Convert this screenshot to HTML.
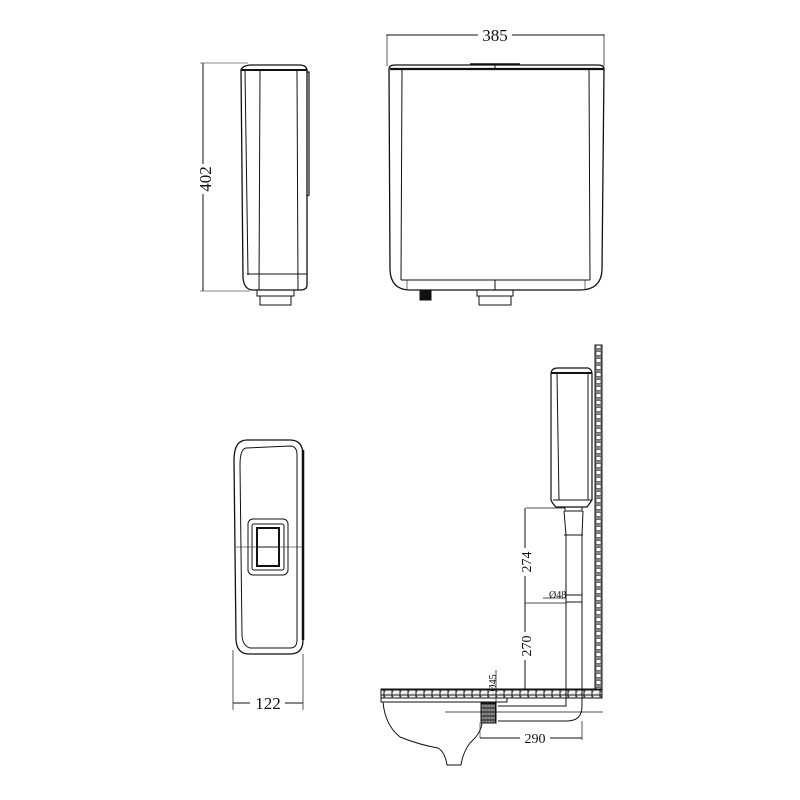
<!DOCTYPE html>
<html><head><meta charset="utf-8"><style>body{margin:0;background:#fff}svg{display:block}</style></head>
<body>
<svg width="800" height="800" viewBox="0 0 800 800" xmlns="http://www.w3.org/2000/svg" font-family="Liberation Serif, serif" fill="none" stroke="#111" stroke-width="1">
<defs>
<pattern id="hb" width="7" height="7" patternUnits="userSpaceOnUse"><rect width="7" height="7" fill="#fff"/><rect x="1" y="1.5" width="5" height="4" fill="none" stroke="#333" stroke-width="0.7"/></pattern>
<pattern id="cc" width="8" height="5" patternUnits="userSpaceOnUse"><rect width="8" height="5" fill="#f6f6f6"/><circle cx="1" cy="1.5" r="0.6" fill="#666" stroke="none"/><circle cx="5" cy="3.5" r="0.5" fill="#888" stroke="none"/></pattern>
<pattern id="vl" width="3" height="4" patternUnits="userSpaceOnUse"><rect width="3" height="4" fill="#fff"/><line x1="1.5" y1="0" x2="1.5" y2="4" stroke="#333" stroke-width="0.7"/></pattern>
</defs>

<!-- Side view top-left -->
<line x1="203" y1="63" x2="203" y2="291"/>
<line x1="200" y1="63" x2="248" y2="63" stroke-width="0.6"/>
<line x1="200" y1="291" x2="250" y2="291" stroke-width="0.6"/>
<rect x="196" y="164" width="14" height="30" fill="#fff" stroke="none"/>
<text x="0" y="0" transform="translate(211,179) rotate(-90)" font-size="17" fill="#111" stroke="none" text-anchor="middle">402</text>
<path d="M241 70 Q242 66 250 65 L300 65 Q306 65 307 70 L307 285 Q307 290 300 290 L252 290 Q244 289 243 278 Z" stroke-width="1.3"/>
<path d="M241 70 L307 70" stroke-width="2"/>
<line x1="245" y1="71" x2="248" y2="275"/>
<line x1="260" y1="71" x2="259" y2="290"/>
<line x1="297" y1="71" x2="298" y2="290"/>
<line x1="247" y1="274" x2="307" y2="274"/>
<path d="M307 72 L309 72 L309 195 L307 196" stroke-width="1.2"/>
<rect x="257" y="290" width="37" height="6"/>
<rect x="260" y="296" width="31" height="9"/>

<!-- Front view top-right -->
<line x1="387" y1="34" x2="387" y2="66" stroke-width="0.7"/>
<line x1="604" y1="34" x2="604" y2="66" stroke-width="0.7"/>
<line x1="387" y1="35" x2="478" y2="35"/>
<line x1="512" y1="35" x2="604" y2="35"/>
<text x="495" y="41" font-size="17" fill="#111" stroke="none" text-anchor="middle">385</text>
<path d="M389 69 Q389 65 395 65 L598 65 Q604 65 604 69 L602 270 Q601 290 580 290 L410 290 Q391 290 390 270 Z" stroke-width="1.3"/>
<path d="M390 69 L604 69" stroke-width="2.2"/>
<path d="M470 64 L520 64" stroke-width="1.5"/>
<line x1="402" y1="69" x2="401" y2="280"/>
<line x1="589" y1="69" x2="590" y2="280"/>
<line x1="401" y1="280" x2="590" y2="280"/>
<line x1="495" y1="65" x2="495" y2="69"/>
<line x1="495" y1="280" x2="495" y2="290"/>
<line x1="407" y1="280" x2="407" y2="290" stroke-width="0.6"/>
<line x1="585" y1="280" x2="585" y2="290" stroke-width="0.6"/>
<rect x="420" y="290" width="11" height="10" fill="#111"/>
<rect x="477" y="290" width="36" height="6"/>
<rect x="479" y="296" width="32" height="9"/>

<!-- Bottom view -->
<path d="M247 440 L290 440 Q303 440 303 455 L303 640 Q303 654 290 654 L249 654 Q237 654 236 640 L234 460 Q234 440 247 440 Z" stroke-width="1.3"/>
<path d="M246 448 L290 446 Q297 446 297 455 L297 640 Q297 648 290 648 L250 648 Q243 646 242 636 L240 465 Q240 449 246 448 Z"/>
<line x1="303" y1="450" x2="303" y2="640" stroke-width="2.5"/>
<line x1="236" y1="547" x2="303" y2="547" stroke-width="0.6"/>
<rect x="248" y="519" width="40" height="56" rx="5"/>
<rect x="252" y="524" width="32" height="46" rx="2"/>
<rect x="257" y="528" width="22" height="38" stroke-width="2"/>
<line x1="257" y1="547" x2="279" y2="547"/>
<line x1="233" y1="650" x2="233" y2="710" stroke-width="0.7"/>
<line x1="303" y1="654" x2="303" y2="710" stroke-width="0.7"/>
<line x1="233" y1="703" x2="250" y2="703"/>
<line x1="285" y1="703" x2="303" y2="703"/>
<text x="268" y="709" font-size="17" fill="#111" stroke="none" text-anchor="middle">122</text>

<!-- Installation view -->
<rect x="595" y="345" width="7" height="350" fill="url(#hb)" stroke="#111"/>
<rect x="381" y="689" width="221" height="9" fill="url(#cc)" stroke="#111"/>
<path d="M551 374 Q551 368 558 368 L588 368 Q592 369 592 374 L592 500 L587 507 L556 507 Q552 503 551 500 Z" stroke-width="1.2"/>
<line x1="551" y1="373" x2="592" y2="373" stroke-width="2"/>
<line x1="557" y1="374" x2="559" y2="500"/>
<line x1="588" y1="374" x2="588" y2="500"/>
<line x1="553" y1="500" x2="592" y2="500"/>
<rect x="565" y="507" width="17" height="4"/>
<path d="M564 511 L566 535 L566 706 L498 706"/>
<path d="M583 511 L582 535 L582 706 Q582 721 567 721 L498 721"/>
<line x1="564" y1="535" x2="583" y2="535"/>
<line x1="566" y1="595" x2="582" y2="595"/>
<line x1="566" y1="602" x2="582" y2="602"/>
<line x1="526" y1="508" x2="565" y2="508" stroke-width="0.7"/>
<line x1="525" y1="508" x2="525" y2="689"/>
<line x1="525" y1="603" x2="566" y2="603" stroke-width="0.7"/>
<line x1="543" y1="598" x2="566" y2="598" stroke-width="0.7"/>
<text x="549" y="598" font-size="10" fill="#111" stroke="none">Ø48</text>
<rect x="518" y="548" width="14" height="28" fill="#fff" stroke="none"/>
<text x="0" y="0" transform="translate(531,562) rotate(-90)" font-size="14" fill="#111" stroke="none" text-anchor="middle">274</text>
<rect x="518" y="632" width="14" height="28" fill="#fff" stroke="none"/>
<text x="0" y="0" transform="translate(531,646) rotate(-90)" font-size="14" fill="#111" stroke="none" text-anchor="middle">270</text>
<line x1="496" y1="670" x2="496" y2="723" stroke-width="0.7"/>
<text x="0" y="0" transform="translate(496,683) rotate(-90)" font-size="10" fill="#111" stroke="none" text-anchor="middle">Ø45</text>
<line x1="445" y1="712" x2="603" y2="712" stroke-width="0.7"/>
<line x1="582" y1="721" x2="582" y2="740" stroke-width="0.7"/>
<line x1="480" y1="738" x2="520" y2="738"/>
<line x1="550" y1="738" x2="582" y2="738"/>
<text x="535" y="743" font-size="14" fill="#111" stroke="none" text-anchor="middle">290</text>
<path d="M381 698 L381 702 L507 702 L507 698"/>
<rect x="481" y="703" width="15" height="20" fill="url(#vl)" stroke="#111"/>
<path d="M383 702 Q385 725 400 737 Q420 745 438 748 Q445 752 447 765 L461 765 Q463 752 470 743 Q481 733 482 723"/>
<line x1="480" y1="723" x2="480" y2="738" stroke-width="0.6"/>
</svg>
</body></html>
